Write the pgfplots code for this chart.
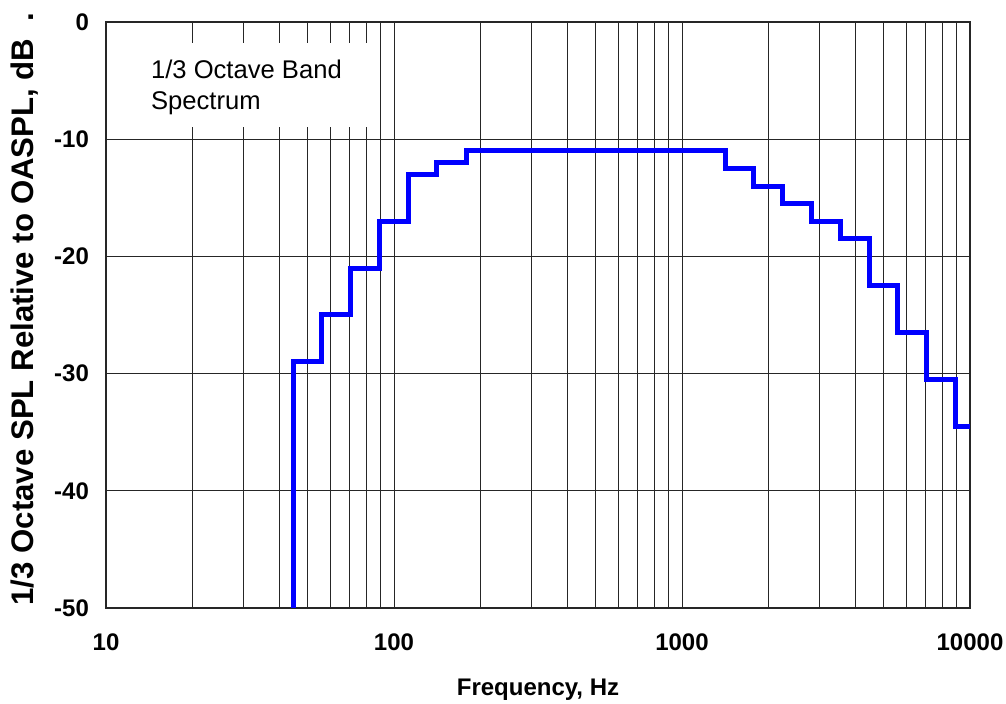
\documentclass[border=0pt]{standalone}
\usepackage{fontspec}
\setmainfont{Liberation Sans}
\usepackage{pgfplots}
\pgfplotsset{compat=1.18}

\definecolor{gridc}{gray}{0.15}
\definecolor{specblue}{RGB}{0,0,255}

\begin{document}
\begin{tikzpicture}
\useasboundingbox (-53pt,-48pt) rectangle (450pt,304pt);
\begin{axis}[
  at={(0pt,0pt)}, anchor=south west,
  scale only axis,
  width=432pt, height=293pt,
  xmode=log,
  xmin=10, xmax=10000,
  ymin=-50, ymax=0,
  xtick={10,100,1000,10000},
  xticklabels={10,100,1000,10000},
  ytick={-50,-40,-30,-20,-10,0},
  yticklabels={-50,-40,-30,-20,-10,0},
  major tick length=0pt, minor tick length=0pt,
  grid=both,
  major grid style={gridc, line width=0.5pt},
  minor grid style={gridc, line width=0.5pt},
  axis line style={gridc, line width=0.6pt},
  tick label style={font=\bfseries\fontsize{12}{14}\selectfont},
  xticklabel style={yshift=-9.5pt},
  yticklabel style={xshift=-5pt},
  xlabel={Frequency, Hz},
  ylabel={1/3 Octave SPL Relative to OASPL, dB\hspace{0.55em}.},
  xlabel style={font=\bfseries\fontsize{12}{14}\selectfont,
    at={(axis description cs:0.5,-0.140)}, anchor=center},
  ylabel style={font=\bfseries\fontsize{15.6}{17}\selectfont,
    at={(axis description cs:-0.094,0.51)}, anchor=center},
  clip=false,
]
% white panel behind the caption text
\fill[white] (rel axis cs:0.002,0.821) rectangle (rel axis cs:0.3125,0.964);
\node[anchor=west, align=left, font=\fontsize{12.8}{15.5}\selectfont]
  at (rel axis cs:0.044,0.888) {1/3 Octave Band\\Spectrum};

% 1/3 octave band levels, held from each lower band edge
\addplot[const plot, specblue, line width=2.5pt, line join=miter] coordinates {
  (44.7,-50) (44.7,-29) (56.2,-25) (70.8,-21) (89.1,-17) (112,-13)
  (141,-12) (178,-11) (1413,-12.5) (1778,-14) (2239,-15.5) (2818,-17)
  (3548,-18.5) (4467,-22.5) (5623,-26.5) (7079,-30.5) (8913,-34.5)
  (10000,-34.5)
};
\end{axis}
\end{tikzpicture}
\end{document}
